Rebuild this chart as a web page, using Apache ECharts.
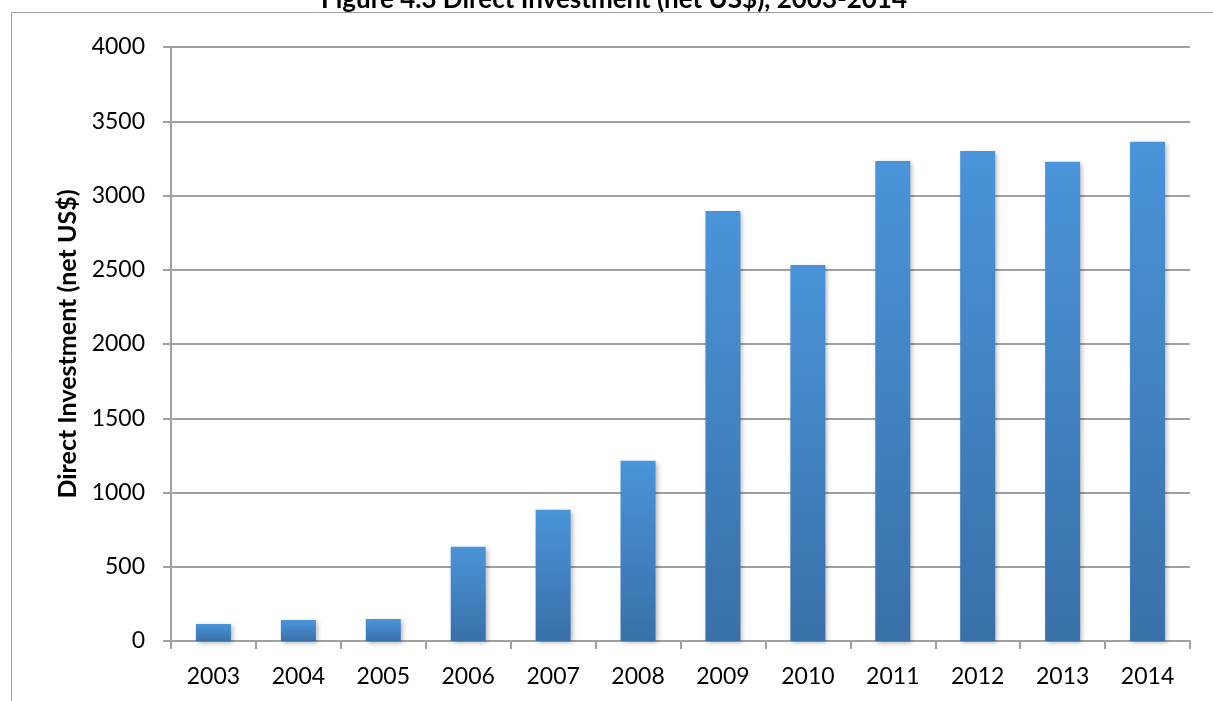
<!DOCTYPE html>
<html>
<head>
<meta charset="utf-8">
<script src="https://cdn.jsdelivr.net/npm/echarts@6/dist/echarts.min.js"></script>
<style>html,body{margin:0;padding:0;background:#fff;}#c{width:1213px;height:701px;}</style>
</head>
<body>
<div id="c"></div>
<script>
const years = ['2003','2004','2005','2006','2007','2008','2009','2010','2011','2012','2013','2014'];
const investment = [114, 141, 148, 634, 884, 1213, 2896, 2532, 3232, 3300, 3227, 3362];
const yTicks = {min: 0, max: 4000, interval: 500};
const chartTitle = 'Figure 4.3 Direct Investment (net US$), 2003-2014';
const yTitle = 'Direct Investment (net US$)';

const font = 'Lato, "Open Sans", sans-serif';
const chart = echarts.init(document.getElementById('c'));
chart.setOption({
  animation: false,
  grid: {left: 171, right: 23, top: 47, bottom: 60},
  graphic: [
    {type: 'rect', shape: {x: 11.5, y: 12.5, width: 1300, height: 800}, style: {fill: 'none', stroke: '#a0a0a0', lineWidth: 1}, silent: true, z: -1},
    {type: 'text', x: 614, y: 13, style: {text: chartTitle, fontFamily: font, fontWeight: 'bold', fontSize: 26, fill: '#000', textAlign: 'center', textVerticalAlign: 'bottom'}}
  ],
  xAxis: {
    type: 'category', data: years,
    axisLine: {lineStyle: {color: '#a0a0a0', width: 2}},
    axisTick: {show: true, length: 8, lineStyle: {color: '#a0a0a0', width: 2}},
    axisLabel: {color: '#000', fontFamily: font, fontSize: 23, margin: 24}
  },
  yAxis: {
    type: 'value', min: yTicks.min, max: yTicks.max, interval: yTicks.interval,
    name: yTitle, nameLocation: 'middle', nameGap: 90,
    nameTextStyle: {color: '#000', fontFamily: font, fontWeight: 'bold', fontSize: 25},
    axisLine: {show: true, lineStyle: {color: '#a0a0a0', width: 2}},
    axisTick: {show: true, length: 8, lineStyle: {color: '#a0a0a0', width: 2}},
    axisLabel: {color: '#000', fontFamily: font, fontSize: 23, margin: 26, formatter: v => String(v)},
    splitLine: {lineStyle: {color: '#a0a0a0', width: 2}}
  },
  series: [{
    type: 'bar', data: investment, barWidth: 35,
    itemStyle: {
      color: new echarts.graphic.LinearGradient(0, 0, 0, 1, [
        {offset: 0, color: '#4a94d9'}, {offset: 1, color: '#3970a8'}
      ]),
      shadowBlur: 5, shadowColor: 'rgba(0,0,0,0.3)', shadowOffsetX: 2, shadowOffsetY: 2
    }
  }]
});
</script>
</body>
</html>
